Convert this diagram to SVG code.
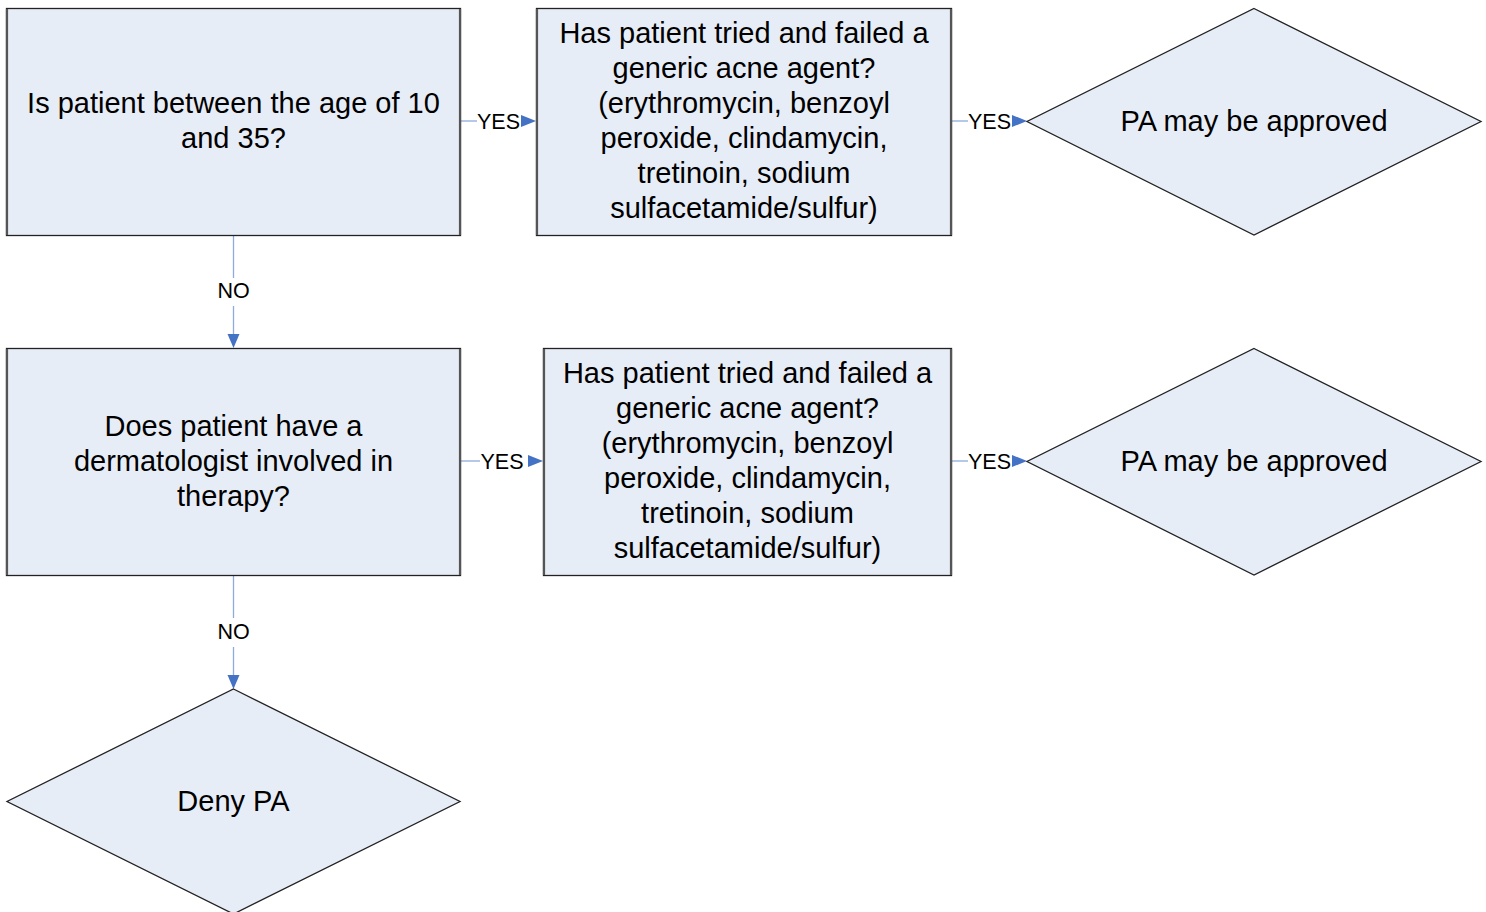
<svg xmlns="http://www.w3.org/2000/svg" width="1486" height="912" viewBox="0 0 1486 912">
  <style>
    .box { fill: #E7EDF7; stroke: #222; stroke-width: 1.3; }
    .edge { fill: none; stroke: #555; stroke-width: 2.2; }
    .dia { fill: #E7EDF7; stroke: #222; stroke-width: 1.3; }
    .t { font-family: "Liberation Sans", Arial, sans-serif; font-size: 29px; fill: #000; text-anchor: middle; }
    .lbl { font-family: "Liberation Sans", Arial, sans-serif; font-size: 21.5px; fill: #000; text-anchor: middle; }
    .conn { fill: none; stroke: #8FAADC; stroke-width: 1.3; }
    .head { fill: #4472C4; }
  </style>
  <rect width="1486" height="912" fill="#fff"/>

  <g id="connectors">
    <!-- age check -> first trial question -->
    <line class="conn" x1="461" y1="121" x2="477" y2="121"/>
    <text class="lbl" x="498.5" y="129">YES</text>
    <polygon class="head" points="521,115 536,121 521,127"/>
    <!-- first trial question -> approved -->
    <line class="conn" x1="952" y1="121" x2="968" y2="121"/>
    <text class="lbl" x="989.5" y="129">YES</text>
    <polygon class="head" points="1012,115 1027,121 1012,127"/>
    <!-- age check -> dermatologist -->
    <line class="conn" x1="233.5" y1="236" x2="233.5" y2="278"/>
    <text class="lbl" x="233.5" y="298">NO</text>
    <line class="conn" x1="233.5" y1="306" x2="233.5" y2="336"/>
    <polygon class="head" points="227.5,334 233.5,348 239.5,334"/>
    <!-- dermatologist -> second trial question -->
    <line class="conn" x1="461" y1="461" x2="480" y2="461"/>
    <text class="lbl" x="502" y="469">YES</text>
    <polygon class="head" points="528,455 543,461 528,467"/>
    <!-- second trial question -> approved -->
    <line class="conn" x1="952" y1="461" x2="968" y2="461"/>
    <text class="lbl" x="989.5" y="469">YES</text>
    <polygon class="head" points="1012,455 1027,461 1012,467"/>
    <!-- dermatologist -> deny -->
    <line class="conn" x1="233.5" y1="576" x2="233.5" y2="618"/>
    <text class="lbl" x="233.5" y="639">NO</text>
    <line class="conn" x1="233.5" y1="647" x2="233.5" y2="676"/>
    <polygon class="head" points="227.5,675 233.5,689 239.5,675"/>
  </g>

  <g id="age-check">
    <rect class="box" x="6.5" y="8.5" width="454" height="227"/>
    <line class="edge" x1="7" y1="9" x2="7" y2="235"/>
    <line class="edge" x1="460" y1="9" x2="460" y2="235"/>
    <text class="t" x="233.5" y="113">Is patient between the age of 10</text>
    <text class="t" x="233.5" y="148">and 35?</text>
  </g>

  <g id="trial-1">
    <rect class="box" x="536.5" y="8.5" width="415" height="227"/>
    <line class="edge" x1="537" y1="9" x2="537" y2="235"/>
    <line class="edge" x1="951" y1="9" x2="951" y2="235"/>
    <text class="t" x="744" y="43">Has patient tried and failed a</text>
    <text class="t" x="744" y="78">generic acne agent?</text>
    <text class="t" x="744" y="113">(erythromycin, benzoyl</text>
    <text class="t" x="744" y="148">peroxide, clindamycin,</text>
    <text class="t" x="744" y="183">tretinoin, sodium</text>
    <text class="t" x="744" y="218">sulfacetamide/sulfur)</text>
  </g>

  <g id="approve-1">
    <polygon class="dia" points="1254,8.5 1481,121.5 1254,235 1027,121.5"/>
    <text class="t" x="1254" y="131">PA may be approved</text>
  </g>

  <g id="dermatologist">
    <rect class="box" x="6.5" y="348.5" width="454" height="227"/>
    <line class="edge" x1="7" y1="349" x2="7" y2="575"/>
    <line class="edge" x1="460" y1="349" x2="460" y2="575"/>
    <text class="t" x="233.5" y="436">Does patient have a</text>
    <text class="t" x="233.5" y="471">dermatologist involved in</text>
    <text class="t" x="233.5" y="506">therapy?</text>
  </g>

  <g id="trial-2">
    <rect class="box" x="543.5" y="348.5" width="408" height="227"/>
    <line class="edge" x1="544" y1="349" x2="544" y2="575"/>
    <line class="edge" x1="951" y1="349" x2="951" y2="575"/>
    <text class="t" x="747.5" y="383">Has patient tried and failed a</text>
    <text class="t" x="747.5" y="418">generic acne agent?</text>
    <text class="t" x="747.5" y="453">(erythromycin, benzoyl</text>
    <text class="t" x="747.5" y="488">peroxide, clindamycin,</text>
    <text class="t" x="747.5" y="523">tretinoin, sodium</text>
    <text class="t" x="747.5" y="558">sulfacetamide/sulfur)</text>
  </g>

  <g id="approve-2">
    <polygon class="dia" points="1254,348.5 1481,461.5 1254,575 1027,461.5"/>
    <text class="t" x="1254" y="471">PA may be approved</text>
  </g>

  <g id="deny">
    <polygon class="dia" points="233.5,689 460,801.5 233.5,914 7,801.5"/>
    <text class="t" x="233.5" y="811">Deny PA</text>
  </g>
</svg>
